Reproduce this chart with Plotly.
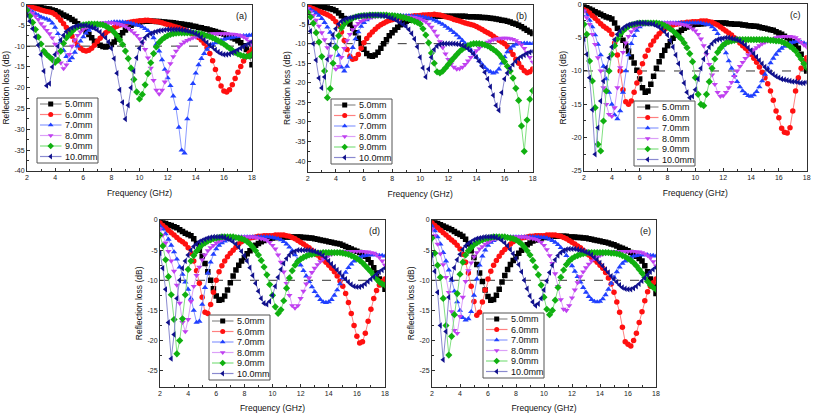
import plotly.graph_objects as go

# ---------------- data ----------------
FREQ_GHZ = [round(2.0 + 0.2 * k, 1) for k in range(81)]
THICKNESS = ["5.0mm", "6.0mm", "7.0mm", "8.0mm", "9.0mm", "10.0mm"]
PANEL_TAGS = ["(a)", "(b)", "(c)", "(d)", "(e)"]
X_TICKS = [2, 4, 6, 8, 10, 12, 14, 16, 18]
X_MINOR = [3, 5, 7, 9, 11, 13, 15, 17]

# ----- panel (a) -----
A_50 = [-0.1, -0.2, -0.3, -0.4, -0.6, -0.8, -0.9, -1.0, -1.1, -1.3,
        -1.5, -1.8, -2.1, -2.5, -2.8, -3.2, -3.6, -4.0, -4.6, -5.2,
        -5.8, -6.5, -7.2, -8.0, -8.8, -9.3, -9.8, -10.1, -10.2, -10.0,
        -9.6, -9.0, -8.3, -7.5, -6.8, -6.1, -5.5, -5.0, -4.6, -4.4,
        -4.2, -4.1, -4.0, -4.0, -4.0, -4.0, -4.1, -4.1, -4.2, -4.2,
        -4.3, -4.3, -4.4, -4.5, -4.6, -4.7, -4.8, -4.9, -5.0, -5.2,
        -5.3, -5.5, -5.6, -5.8, -5.9, -6.1, -6.3, -6.5, -6.7, -6.9,
        -7.1, -7.4, -7.7, -8.0, -8.3, -8.7, -9.2, -9.9, -10.8, -12.3,
        -14.5]
A_60 = [-0.3, -0.5, -0.7, -0.9, -1.1, -1.3, -1.5, -1.7, -1.8, -2.0,
        -2.4, -3.0, -3.8, -4.6, -5.5, -6.5, -7.6, -8.7, -9.7, -10.5,
        -11.0, -11.2, -11.0, -10.5, -9.8, -8.9, -8.1, -7.4, -6.8, -6.3,
        -5.9, -5.5, -5.2, -4.9, -4.7, -4.5, -4.3, -4.2, -4.1, -4.0,
        -3.9, -3.9, -3.8, -3.8, -3.9, -4.0, -4.1, -4.2, -4.4, -4.6,
        -4.8, -5.0, -5.2, -5.4, -5.6, -5.9, -6.1, -6.4, -6.7, -7.0,
        -7.4, -7.9, -8.5, -9.3, -10.4, -11.8, -13.5, -15.6, -17.8, -19.6,
        -20.8, -21.0, -20.5, -19.3, -17.8, -16.3, -14.9, -13.6, -12.5, -11.6,
        -10.8]
A_70 = [-1.0, -1.4, -1.8, -2.2, -2.6, -3.0, -3.3, -3.5, -3.8, -4.5,
        -5.5, -7.0, -9.0, -11.0, -12.5, -13.5, -12.8, -11.5, -10.0, -8.8,
        -7.8, -6.9, -6.2, -5.7, -5.3, -5.0, -4.8, -4.6, -4.5, -4.4,
        -4.3, -4.2, -4.2, -4.2, -4.2, -4.3, -4.4, -4.5, -4.7, -4.9,
        -5.1, -5.4, -5.8, -6.3, -7.0, -8.0, -9.5, -11.2, -13.3, -15.6,
        -17.6, -19.5, -22.0, -25.0, -29.5, -35.0, -35.7, -27.5, -22.8, -19.0,
        -16.5, -14.5, -13.0, -11.8, -10.8, -10.1, -9.6, -9.2, -8.9, -8.6,
        -8.4, -8.2, -8.0, -7.9, -7.8, -7.7, -7.6, -7.5, -7.5, -7.4,
        -7.3]
A_80 = [-1.0, -1.5, -2.1, -2.8, -3.6, -4.6, -5.4, -6.2, -7.0, -8.0,
        -9.5, -11.5, -14.0, -15.4, -14.5, -12.0, -10.0, -8.5, -7.4, -6.6,
        -6.0, -5.5, -5.2, -4.9, -4.7, -4.6, -4.5, -4.4, -4.4, -4.4,
        -4.4, -4.5, -4.6, -4.8, -5.0, -5.3, -5.7, -6.2, -6.8, -7.4,
        -8.2, -9.3, -10.8, -12.8, -15.3, -18.2, -20.6, -21.5, -20.6, -18.6,
        -16.2, -14.2, -12.5, -11.2, -10.2, -9.5, -9.0, -8.6, -8.3, -8.0,
        -7.8, -7.6, -7.4, -7.3, -7.2, -7.1, -7.0, -7.0, -7.0, -7.0,
        -7.0, -7.0, -7.1, -7.1, -7.2, -7.3, -7.5, -7.8, -8.2, -8.8,
        -9.5]
A_90 = [-1.4, -2.8, -4.3, -6.0, -7.8, -9.5, -11.2, -12.0, -12.6, -13.2,
        -13.9, -13.4, -11.2, -9.3, -8.0, -7.2, -6.5, -5.8, -5.4, -5.1,
        -4.9, -4.8, -4.7, -4.7, -4.7, -4.7, -4.8, -4.9, -5.2, -5.6,
        -6.0, -6.7, -7.5, -8.5, -9.6, -11.2, -13.0, -15.3, -18.0, -21.0,
        -22.7, -21.6, -19.3, -16.6, -14.0, -11.8, -10.2, -9.1, -8.4, -7.9,
        -7.5, -7.2, -7.0, -6.9, -6.8, -6.8, -6.8, -6.8, -6.8, -6.8,
        -6.9, -7.0, -7.1, -7.3, -7.5, -7.7, -8.0, -8.3, -8.7, -9.1,
        -9.5, -10.0, -10.5, -11.0, -11.5, -11.9, -12.2, -12.4, -12.5, -12.4,
        -12.0]
A_100 = [-2.5, -4.0, -5.8, -7.8, -9.8, -12.0, -16.0, -19.5, -19.0, -15.0,
         -12.0, -10.0, -8.5, -7.4, -6.5, -6.0, -5.6, -5.3, -5.1, -5.0,
         -5.0, -5.0, -5.2, -5.4, -5.7, -6.1, -6.6, -7.3, -8.0, -9.0,
         -10.5, -13.0, -16.5, -20.5, -23.5, -27.5, -24.2, -20.0, -16.0, -12.8,
         -10.5, -9.0, -8.0, -7.4, -7.0, -6.7, -6.5, -6.3, -6.2, -6.1,
         -6.0, -6.0, -6.0, -6.0, -6.0, -6.1, -6.2, -6.3, -6.5, -6.7,
         -7.0, -7.4, -7.9, -8.5, -9.1, -9.7, -10.3, -10.9, -11.4, -11.8,
         -12.0, -12.0, -11.9, -11.6, -11.3, -10.9, -10.5, -10.1, -9.7, -9.4,
         -9.0]

# ----- panel (b) -----
B_50 = [0.0, -0.1, -0.2, -0.3, -0.4, -0.5, -0.7, -0.9, -1.1, -1.3,
        -1.6, -2.2, -2.9, -3.6, -4.3, -5.0, -6.0, -7.2, -8.6, -10.0,
        -11.4, -12.5, -13.1, -13.2, -12.9, -12.2, -11.2, -10.0, -9.0, -8.0,
        -7.2, -6.5, -5.8, -5.2, -4.7, -4.3, -4.0, -3.7, -3.5, -3.4,
        -3.3, -3.2, -3.1, -3.1, -3.0, -3.0, -3.0, -3.0, -3.0, -3.0,
        -3.0, -3.0, -3.0, -3.0, -3.0, -3.0, -3.0, -3.1, -3.1, -3.1,
        -3.2, -3.2, -3.3, -3.3, -3.4, -3.5, -3.6, -3.7, -3.8, -4.0,
        -4.1, -4.3, -4.5, -4.8, -5.0, -5.3, -5.7, -6.1, -6.6, -7.0,
        -7.4]
B_60 = [-0.5, -0.8, -1.1, -1.4, -1.7, -2.0, -2.3, -2.6, -3.0, -3.6,
        -4.4, -5.4, -7.0, -9.2, -11.5, -13.2, -14.0, -13.8, -12.8, -11.2,
        -9.8, -8.7, -7.8, -7.0, -6.3, -5.7, -5.2, -4.8, -4.4, -4.1,
        -3.9, -3.7, -3.5, -3.4, -3.3, -3.2, -3.1, -3.0, -2.9, -2.9,
        -2.8, -2.7, -2.7, -2.6, -2.6, -2.5, -2.6, -2.7, -2.9, -3.1,
        -3.3, -3.5, -3.8, -4.0, -4.2, -4.5, -4.7, -4.9, -5.1, -5.3,
        -5.6, -6.0, -6.4, -6.8, -7.2, -7.6, -8.1, -8.6, -9.1, -9.6,
        -10.0, -10.8, -11.8, -12.8, -14.0, -15.0, -16.0, -16.9, -17.4, -17.2,
        -16.5]
B_70 = [-1.0, -1.3, -1.7, -2.2, -2.8, -3.6, -4.6, -5.8, -7.1, -8.6,
        -10.5, -13.0, -16.0, -17.0, -15.8, -13.5, -11.0, -8.8, -7.0, -5.6,
        -4.6, -3.9, -3.4, -3.1, -2.9, -2.8, -2.8, -2.8, -2.8, -2.8,
        -2.8, -2.8, -2.8, -2.8, -2.9, -2.9, -2.9, -3.0, -3.0, -3.0,
        -3.1, -3.2, -3.3, -3.5, -3.7, -4.0, -4.3, -4.7, -5.1, -5.6,
        -6.1, -6.6, -7.2, -7.8, -8.5, -9.2, -10.0, -10.8, -11.7, -12.6,
        -13.5, -14.4, -15.3, -16.1, -16.8, -17.2, -17.5, -17.3, -16.5, -15.0,
        -13.4, -12.1, -11.2, -10.6, -10.2, -10.0, -10.0, -9.9, -9.9, -10.0,
        -10.0]
B_80 = [-1.0, -1.8, -2.8, -4.0, -5.5, -7.2, -9.0, -11.0, -13.2, -15.2,
        -16.5, -15.8, -13.5, -11.2, -9.2, -7.6, -6.4, -5.5, -4.8, -4.3,
        -3.9, -3.6, -3.4, -3.2, -3.1, -3.0, -3.0, -2.9, -2.9, -2.9,
        -2.9, -2.9, -2.9, -3.0, -3.0, -3.1, -3.1, -3.2, -3.3, -3.5,
        -3.7, -4.0, -4.4, -5.0, -5.8, -6.8, -8.0, -9.5, -11.0, -12.6,
        -14.0, -15.2, -16.0, -16.5, -16.4, -16.0, -15.3, -14.4, -13.5, -12.6,
        -11.8, -11.1, -10.5, -10.0, -9.6, -9.3, -9.0, -8.8, -8.7, -8.6,
        -8.6, -8.6, -8.7, -8.9, -9.2, -9.7, -10.3, -11.2, -12.3, -13.5,
        -14.7]
B_90 = [-2.0, -3.2, -4.8, -7.2, -9.6, -13.3, -17.0, -23.8, -21.5, -15.0,
        -11.0, -8.0, -6.0, -5.0, -4.3, -3.8, -3.5, -3.2, -3.0, -2.9,
        -2.8, -2.8, -2.7, -2.7, -2.7, -2.7, -2.7, -2.7, -2.7, -2.8,
        -2.8, -2.9, -3.0, -3.1, -3.3, -3.5, -3.7, -4.0, -4.3, -4.6,
        -5.0, -6.2, -7.8, -9.8, -12.4, -15.0, -17.2, -17.5, -17.0, -16.2,
        -15.3, -14.4, -13.6, -12.8, -12.0, -11.4, -10.9, -10.5, -10.2, -10.0,
        -10.0, -10.0, -10.1, -10.3, -10.6, -11.0, -11.5, -12.0, -12.7, -13.6,
        -14.6, -15.8, -17.0, -18.8, -21.4, -24.5, -31.0, -37.5, -29.5, -24.2,
        -22.0]
B_100 = [-4.5, -6.8, -10.0, -14.2, -18.8, -21.3, -18.5, -14.0, -10.2, -7.8,
         -6.2, -5.0, -4.3, -3.9, -3.6, -3.4, -3.3, -3.1, -3.0, -2.9,
         -2.8, -2.8, -2.7, -2.7, -2.7, -2.7, -2.8, -2.9, -3.0, -3.3,
         -3.5, -3.8, -4.2, -4.6, -5.1, -5.6, -6.4, -7.4, -8.8, -10.8,
         -13.5, -16.2, -18.5, -16.5, -13.5, -11.5, -10.6, -10.2, -10.0, -10.0,
         -10.0, -10.0, -10.0, -10.1, -10.2, -10.4, -10.8, -11.3, -11.9, -12.6,
         -13.5, -14.5, -15.8, -17.3, -19.0, -21.0, -23.2, -25.8, -27.0, -22.5,
         -19.0, -17.5, -16.3, -15.3, -14.5, -13.8, -13.3, -12.9, -12.5, -12.2,
         -12.0]

# ----- panel (c) -----
C_50 = [-0.3, -0.5, -0.7, -0.9, -1.1, -1.3, -1.5, -1.7, -1.9, -2.0,
        -2.2, -2.8, -3.6, -4.5, -5.4, -6.2, -7.0, -7.9, -8.8, -9.9,
        -11.2, -12.5, -13.2, -13.0, -12.0, -10.8, -9.6, -8.6, -7.7, -6.9,
        -6.2, -5.6, -5.1, -4.6, -4.2, -3.9, -3.6, -3.4, -3.3, -3.1,
        -3.0, -3.0, -2.9, -2.9, -2.8, -2.8, -2.8, -2.8, -2.8, -2.8,
        -2.8, -2.8, -2.9, -2.9, -3.0, -3.0, -3.0, -3.1, -3.1, -3.2,
        -3.2, -3.3, -3.3, -3.4, -3.5, -3.6, -3.7, -3.8, -3.9, -4.1,
        -4.3, -4.5, -4.8, -5.0, -5.3, -5.6, -6.0, -6.6, -7.5, -8.6,
        -10.0]
C_60 = [-0.8, -1.0, -1.3, -1.7, -2.1, -2.5, -2.9, -3.3, -3.6, -3.9,
        -4.5, -5.8, -7.6, -10.0, -12.8, -14.6, -15.0, -14.5, -13.2, -11.8,
        -10.2, -8.9, -7.8, -6.9, -6.1, -5.5, -4.9, -4.4, -4.0, -3.7,
        -3.5, -3.3, -3.1, -3.0, -2.9, -2.8, -2.8, -2.7, -2.7, -2.6,
        -2.6, -2.6, -2.5, -2.5, -2.5, -2.6, -2.7, -2.9, -3.1, -3.4,
        -3.7, -4.0, -4.3, -4.6, -5.0, -5.4, -5.8, -6.2, -6.6, -7.0,
        -7.5, -8.1, -8.7, -9.4, -10.2, -11.0, -11.9, -13.0, -14.4, -16.0,
        -17.0, -18.6, -19.2, -19.3, -18.5, -16.0, -13.0, -11.0, -9.6, -8.6,
        -8.0]
C_70 = [-1.0, -1.6, -2.4, -3.4, -4.6, -6.0, -7.6, -9.3, -11.2, -13.2,
        -15.0, -16.6, -17.2, -16.0, -13.2, -10.0, -7.6, -5.9, -4.7, -3.9,
        -3.4, -3.1, -2.9, -2.8, -2.8, -2.8, -2.8, -2.8, -2.8, -2.8,
        -2.8, -2.8, -2.8, -2.8, -2.8, -2.8, -2.8, -2.8, -2.8, -2.8,
        -2.8, -2.8, -2.8, -2.9, -3.0, -3.1, -3.4, -3.8, -4.4, -5.2,
        -6.2, -7.3, -8.5, -9.6, -10.7, -11.6, -12.4, -13.0, -13.4, -13.7,
        -13.8, -13.6, -13.1, -12.4, -11.5, -10.5, -9.6, -8.8, -8.1, -7.5,
        -7.0, -6.6, -6.3, -6.0, -5.8, -5.7, -5.6, -5.6, -5.7, -5.8,
        -6.0]
C_80 = [-1.0, -2.0, -3.0, -4.5, -6.0, -8.0, -10.0, -12.5, -15.0, -16.5,
        -16.8, -15.5, -12.5, -9.5, -7.2, -5.8, -4.8, -4.1, -3.6, -3.3,
        -3.1, -3.0, -2.9, -2.9, -2.8, -2.8, -2.8, -2.8, -2.8, -2.8,
        -2.8, -2.8, -2.8, -2.9, -2.9, -3.0, -3.1, -3.2, -3.4, -3.7,
        -4.0, -4.5, -5.2, -6.2, -7.5, -9.0, -10.6, -12.0, -13.2, -13.8,
        -13.7, -13.2, -12.5, -11.7, -10.8, -10.0, -9.3, -8.7, -8.1, -7.6,
        -7.2, -6.8, -6.5, -6.2, -5.9, -5.7, -5.5, -5.3, -5.2, -5.0,
        -4.9, -4.9, -4.8, -4.8, -4.8, -4.9, -5.0, -5.3, -5.7, -6.1,
        -6.4]
C_90 = [-3.0, -4.5, -8.5, -11.5, -15.5, -21.0, -22.0, -17.5, -13.0, -10.0,
        -7.5, -6.2, -5.2, -4.5, -4.0, -3.6, -3.3, -3.1, -3.0, -2.9,
        -2.8, -2.8, -2.8, -2.8, -2.8, -2.8, -2.8, -2.9, -3.0, -3.2,
        -3.4, -3.7, -4.0, -4.4, -4.8, -5.2, -5.8, -6.5, -7.4, -8.6,
        -11.0, -13.5, -15.0, -15.2, -13.5, -11.6, -9.6, -8.2, -7.2, -6.6,
        -6.1, -5.8, -5.6, -5.5, -5.4, -5.3, -5.3, -5.3, -5.3, -5.3,
        -5.3, -5.3, -5.3, -5.3, -5.3, -5.3, -5.3, -5.4, -5.4, -5.5,
        -5.5, -5.6, -5.8, -6.0, -6.3, -6.6, -7.0, -7.6, -8.2, -8.9,
        -9.5]
C_100 = [-5.2, -7.5, -11.0, -15.8, -22.5, -18.5, -14.5, -11.5, -9.5, -8.0,
         -6.4, -5.3, -4.5, -4.0, -3.6, -3.3, -3.1, -3.0, -2.9, -2.8,
         -2.8, -2.8, -2.8, -2.9, -2.9, -3.0, -3.2, -3.4, -3.7, -4.1,
         -4.6, -5.4, -6.4, -7.6, -8.9, -10.3, -11.8, -13.2, -14.0, -13.8,
         -12.8, -11.2, -9.6, -8.2, -7.2, -6.4, -5.9, -5.5, -5.3, -5.2,
         -5.1, -5.0, -5.0, -5.1, -5.2, -5.3, -5.5, -5.8, -6.1, -6.5,
         -6.9, -7.4, -7.9, -8.4, -8.9, -9.4, -9.8, -10.2, -10.5, -10.8,
         -11.0, -11.2, -11.3, -11.4, -11.5, -11.6, -11.6, -11.7, -11.8, -11.8,
         -11.7]

# ----- panel (d) -----
D_50 = [-0.3, -0.5, -0.6, -0.8, -0.9, -1.1, -1.3, -1.6, -1.9, -2.2,
        -2.4, -2.6, -3.1, -3.9, -5.0, -6.0, -7.2, -8.6, -10.0, -11.4,
        -12.6, -13.3, -13.2, -12.6, -11.6, -10.4, -9.3, -8.3, -7.5, -6.8,
        -6.2, -5.6, -5.1, -4.6, -4.2, -3.9, -3.6, -3.4, -3.2, -3.1,
        -3.0, -2.9, -2.9, -2.8, -2.8, -2.8, -2.8, -2.8, -2.8, -2.8,
        -2.8, -2.9, -2.9, -3.0, -3.0, -3.1, -3.2, -3.3, -3.4, -3.5,
        -3.6, -3.7, -3.8, -3.9, -4.0, -4.2, -4.4, -4.6, -4.8, -5.0,
        -5.2, -5.4, -5.7, -6.0, -6.5, -7.1, -7.9, -8.8, -9.8, -10.7,
        -11.5]
D_60 = [-0.5, -0.9, -1.3, -1.7, -2.1, -2.5, -2.9, -3.3, -3.6, -4.0,
        -4.6, -5.5, -6.8, -8.4, -10.5, -12.8, -15.3, -15.5, -14.0, -12.0,
        -10.0, -8.6, -7.6, -6.8, -6.1, -5.5, -5.0, -4.5, -4.0, -3.6,
        -3.3, -3.1, -3.0, -2.9, -2.8, -2.7, -2.7, -2.6, -2.6, -2.6,
        -2.6, -2.5, -2.5, -2.5, -2.5, -2.6, -2.7, -2.9, -3.1, -3.4,
        -3.7, -4.0, -4.3, -4.6, -5.0, -5.4, -5.8, -6.2, -6.6, -7.0,
        -7.5, -8.0, -8.6, -9.3, -10.1, -11.0, -12.2, -13.7, -15.5, -17.5,
        -19.3, -20.4, -20.2, -18.8, -16.8, -14.8, -13.0, -11.7, -10.8, -10.2,
        -9.8]
D_70 = [-1.0, -1.5, -2.3, -3.2, -4.2, -5.3, -6.5, -7.8, -9.0, -10.3,
        -11.5, -13.0, -15.0, -17.0, -16.8, -14.0, -11.2, -8.8, -7.0, -5.7,
        -4.8, -4.2, -3.8, -3.5, -3.3, -3.1, -3.0, -2.9, -2.8, -2.8,
        -2.8, -2.8, -2.8, -2.8, -2.8, -2.8, -2.8, -2.8, -2.8, -2.8,
        -2.9, -3.0, -3.1, -3.3, -3.6, -4.0, -4.5, -5.1, -5.8, -6.6,
        -7.5, -8.4, -9.3, -10.2, -11.1, -11.9, -12.6, -13.2, -13.6, -13.7,
        -13.6, -13.2, -12.5, -11.6, -10.6, -9.6, -8.7, -7.9, -7.3, -6.8,
        -6.5, -6.2, -6.0, -5.9, -5.8, -5.8, -5.8, -5.8, -5.9, -5.9,
        -6.0]
D_80 = [-1.5, -2.5, -3.8, -5.2, -6.8, -8.5, -10.8, -13.8, -17.0, -18.5,
        -16.5, -13.5, -11.0, -9.2, -7.8, -6.6, -5.8, -5.1, -4.6, -4.2,
        -3.8, -3.5, -3.3, -3.1, -3.0, -2.9, -2.8, -2.8, -2.8, -2.8,
        -2.8, -2.8, -2.8, -2.8, -2.9, -3.0, -3.1, -3.2, -3.4, -3.7,
        -4.2, -4.8, -5.8, -7.0, -8.6, -10.5, -12.5, -14.2, -14.6, -14.2,
        -13.0, -11.8, -10.6, -9.6, -8.7, -8.0, -7.4, -6.9, -6.5, -6.2,
        -5.9, -5.7, -5.5, -5.4, -5.3, -5.2, -5.2, -5.2, -5.2, -5.2,
        -5.2, -5.2, -5.2, -5.3, -5.3, -5.4, -5.5, -5.8, -6.2, -6.8,
        -7.5]
D_90 = [-2.5, -4.3, -6.6, -9.4, -12.4, -16.5, -22.2, -20.0, -16.4, -12.4,
        -8.2, -6.8, -5.9, -5.2, -4.6, -4.1, -3.8, -3.5, -3.3, -3.1,
        -3.0, -2.9, -2.8, -2.8, -2.8, -2.8, -2.8, -2.9, -3.0, -3.1,
        -3.3, -3.6, -4.0, -4.5, -5.1, -5.8, -6.7, -7.8, -9.1, -10.7,
        -12.5, -14.4, -15.5, -14.9, -13.4, -11.3, -9.6, -8.4, -7.5, -6.9,
        -6.5, -6.2, -6.0, -5.8, -5.7, -5.6, -5.5, -5.5, -5.4, -5.4,
        -5.4, -5.4, -5.4, -5.4, -5.4, -5.5, -5.6, -5.7, -5.9, -6.1,
        -6.4, -6.7, -7.1, -7.6, -8.1, -8.6, -9.2, -9.8, -10.3, -10.6,
        -10.8]
D_100 = [-5.5, -8.0, -11.5, -17.0, -23.0, -19.0, -13.0, -10.0, -8.0, -6.8,
         -5.8, -5.0, -4.4, -4.0, -3.6, -3.4, -3.2, -3.0, -2.9, -2.8,
         -2.8, -2.8, -2.8, -2.9, -3.1, -3.3, -3.6, -4.0, -4.5, -5.2,
         -5.9, -6.8, -7.9, -9.2, -10.5, -11.8, -13.0, -13.8, -14.0, -13.5,
         -12.5, -11.0, -9.5, -8.2, -7.2, -6.4, -5.8, -5.4, -5.2, -5.0,
         -5.0, -5.0, -5.0, -5.0, -5.1, -5.2, -5.4, -5.6, -5.9, -6.3,
         -6.8, -7.3, -7.8, -8.3, -8.8, -9.3, -9.8, -10.3, -10.7, -11.0,
         -11.1, -11.1, -10.9, -10.6, -10.2, -9.8, -9.4, -9.0, -8.6, -8.3,
         -8.0]

# ----- panel (e) -----
E_50 = [-0.3, -0.5, -0.6, -0.8, -1.0, -1.2, -1.4, -1.6, -1.9, -2.2,
        -2.4, -2.7, -3.2, -4.0, -5.1, -6.2, -7.4, -8.8, -10.2, -11.6,
        -12.7, -13.3, -13.2, -12.5, -11.5, -10.3, -9.2, -8.2, -7.4, -6.7,
        -6.1, -5.5, -5.0, -4.5, -4.1, -3.8, -3.5, -3.3, -3.1, -3.0,
        -2.9, -2.8, -2.8, -2.7, -2.7, -2.7, -2.7, -2.7, -2.7, -2.8,
        -2.8, -2.8, -2.9, -2.9, -3.0, -3.0, -3.1, -3.2, -3.3, -3.4,
        -3.5, -3.6, -3.7, -3.8, -4.0, -4.1, -4.3, -4.5, -4.7, -4.9,
        -5.1, -5.4, -5.7, -6.0, -6.4, -6.8, -7.6, -8.6, -9.8, -11.0,
        -12.2]
E_60 = [-0.5, -0.9, -1.3, -1.7, -2.1, -2.5, -2.9, -3.3, -3.7, -4.2,
        -4.8, -5.7, -7.0, -8.8, -11.0, -13.5, -15.8, -15.3, -13.6, -11.6,
        -9.8, -8.5, -7.5, -6.7, -6.0, -5.4, -4.9, -4.4, -4.0, -3.6,
        -3.3, -3.1, -3.0, -2.9, -2.8, -2.7, -2.7, -2.6, -2.6, -2.6,
        -2.6, -2.5, -2.5, -2.5, -2.5, -2.6, -2.7, -2.9, -3.1, -3.4,
        -3.7, -4.0, -4.3, -4.6, -5.0, -5.4, -5.8, -6.2, -6.6, -7.0,
        -7.5, -8.0, -8.7, -9.6, -10.6, -12.0, -13.6, -15.3, -17.8, -20.2,
        -20.6, -20.9, -20.0, -18.8, -17.0, -15.2, -13.4, -11.9, -11.0, -10.4,
        -9.8]
E_70 = [-1.0, -1.8, -2.8, -4.0, -5.4, -6.8, -8.3, -10.0, -11.8, -13.6,
        -15.0, -16.2, -16.6, -16.4, -15.2, -12.5, -9.8, -7.5, -6.0, -5.0,
        -4.2, -3.7, -3.4, -3.1, -3.0, -2.9, -2.8, -2.8, -2.8, -2.8,
        -2.8, -2.8, -2.8, -2.8, -2.8, -2.8, -2.8, -2.8, -2.8, -2.9,
        -2.9, -3.0, -3.2, -3.4, -3.7, -4.1, -4.6, -5.2, -5.9, -6.7,
        -7.6, -8.5, -9.4, -10.3, -11.2, -12.0, -12.7, -13.2, -13.5, -13.6,
        -13.5, -13.1, -12.4, -11.5, -10.5, -9.5, -8.6, -7.8, -7.2, -6.8,
        -6.5, -6.2, -6.0, -5.9, -5.8, -5.8, -5.8, -5.8, -5.9, -5.9,
        -6.0]
E_80 = [-1.5, -2.6, -4.0, -5.6, -7.4, -9.5, -12.0, -15.2, -18.3, -18.8,
        -16.0, -12.8, -10.2, -8.4, -7.1, -6.1, -5.4, -4.8, -4.4, -4.0,
        -3.7, -3.4, -3.2, -3.1, -3.0, -2.9, -2.8, -2.8, -2.8, -2.8,
        -2.8, -2.8, -2.8, -2.8, -2.9, -3.0, -3.1, -3.2, -3.4, -3.7,
        -4.2, -4.9, -5.9, -7.2, -8.9, -11.0, -13.2, -14.8, -15.0, -14.2,
        -12.9, -11.6, -10.4, -9.4, -8.6, -7.9, -7.3, -6.8, -6.4, -6.1,
        -5.9, -5.7, -5.5, -5.4, -5.3, -5.2, -5.2, -5.2, -5.2, -5.2,
        -5.2, -5.2, -5.2, -5.3, -5.3, -5.4, -5.6, -5.9, -6.3, -6.9,
        -7.6]
E_90 = [-3.0, -5.5, -7.5, -9.5, -13.0, -17.5, -22.4, -19.3, -15.7, -12.2,
        -9.0, -7.0, -5.8, -5.1, -4.6, -4.1, -3.8, -3.5, -3.3, -3.1,
        -3.0, -2.9, -2.8, -2.8, -2.8, -2.8, -2.8, -2.9, -3.0, -3.1,
        -3.3, -3.6, -4.0, -4.5, -5.1, -5.8, -6.7, -7.8, -9.1, -10.8,
        -12.8, -14.8, -15.7, -15.0, -13.3, -11.2, -9.5, -8.3, -7.4, -6.8,
        -6.4, -6.1, -5.9, -5.7, -5.6, -5.5, -5.4, -5.4, -5.4, -5.4,
        -5.4, -5.4, -5.4, -5.4, -5.5, -5.5, -5.6, -5.7, -5.9, -6.1,
        -6.4, -6.7, -7.1, -7.6, -8.2, -8.8, -9.5, -10.2, -10.8, -11.2,
        -11.5]
E_100 = [-5.8, -8.5, -12.0, -17.5, -23.2, -18.5, -12.8, -9.8, -7.9, -6.6,
         -5.7, -4.9, -4.3, -3.9, -3.6, -3.3, -3.1, -3.0, -2.9, -2.8,
         -2.8, -2.8, -2.8, -2.9, -3.1, -3.4, -3.8, -4.3, -4.9, -5.6,
         -6.4, -7.4, -8.6, -10.0, -11.4, -12.6, -13.6, -14.2, -13.9, -13.0,
         -11.6, -10.1, -8.7, -7.5, -6.6, -5.9, -5.4, -5.1, -4.9, -4.8,
         -4.8, -4.8, -4.9, -5.0, -5.1, -5.3, -5.5, -5.8, -6.2, -6.6,
         -7.1, -7.6, -8.2, -8.7, -9.3, -9.8, -10.3, -10.8, -11.2, -11.4,
         -11.5, -11.5, -11.3, -11.0, -10.6, -10.1, -9.6, -9.1, -8.6, -8.2,
         -7.9]

PANEL_SERIES = [
    [A_50, A_60, A_70, A_80, A_90, A_100],
    [B_50, B_60, B_70, B_80, B_90, B_100],
    [C_50, C_60, C_70, C_80, C_90, C_100],
    [D_50, D_60, D_70, D_80, D_90, D_100],
    [E_50, E_60, E_70, E_80, E_90, E_100],
]
for panel in PANEL_SERIES:
    for s in panel:
        assert len(s) == len(FREQ_GHZ), len(s)

Y_TICK_LOW = [-40, -40, -25, -25, -25]

# ---------------- layout / style ----------------
W, H = 813, 413
PLOT_PX = [  # (left, right, top, bottom) in pixels
    (27, 252, 4.5, 171),
    (307.7, 532.7, 4.5, 171.7),
    (584, 806.7, 4.3, 171),
    (160, 385, 220, 386.7),
    (432, 656, 220, 386.7),
]
Y_LOW = [-40, -42.7, -25, -27.65, -27.65]
LEGEND_PX = [(37, 98), (331, 99), (634, 101), (209, 315), (483, 313)]
LEG_W, LEG_H, LEG_STEP = 61, 65, 10.5

SYMBOLS = ["square", "circle", "triangle-up", "triangle-down", "diamond", "triangle-left"]
MARKER_COLORS = ["#000000", "#ff1010", "#2040ff", "#c040f0", "#10b010", "#10108c"]
LINE_COLORS = ["#8c8c8c", "#ff8080", "#8a9aff", "#dba0f8", "#80e080", "#8a8ad0"]
FONT = "Liberation Sans, Arial, sans-serif"
AX_COLOR = "#303030"

fig = go.Figure()
layout = dict(
    width=W, height=H, margin=dict(l=0, r=0, t=0, b=0, autoexpand=False),
    paper_bgcolor="white", plot_bgcolor="rgba(0,0,0,0)",
    font=dict(family=FONT, color="#111111"),
    showlegend=False,
)
shapes, annotations = [], []

for p, series in enumerate(PANEL_SERIES):
    key = "" if p == 0 else str(p + 1)
    left, right, top, bottom = PLOT_PX[p]
    xd = [left / W, right / W]
    yd = [1 - bottom / H, 1 - top / H]
    for s, vals in enumerate(series):
        fig.add_trace(go.Scatter(
            x=FREQ_GHZ, y=vals, mode="lines+markers", name=THICKNESS[s],
            xaxis="x" + key, yaxis="y" + key, cliponaxis=True,
            line=dict(color=LINE_COLORS[s], width=1),
            marker=dict(symbol=SYMBOLS[s], size=5.5, color=MARKER_COLORS[s],
                        line=dict(width=0)),
            showlegend=False, hoverinfo="skip"))
    yt = list(range(0, Y_TICK_LOW[p] - 1, -5))
    ym = [v - 2.5 for v in yt if v - 2.5 > Y_LOW[p]]
    layout["xaxis" + key] = dict(
        domain=xd, range=[2, 18], anchor="y" + key, automargin=False,
        tickmode="array", tickvals=X_TICKS, ticktext=[str(v) for v in X_TICKS],
        ticks="inside", ticklen=3, tickwidth=1, tickcolor=AX_COLOR,
        minor=dict(tickmode="array", tickvals=X_MINOR, ticks="inside",
                   ticklen=2, tickcolor=AX_COLOR),
        showline=True, linecolor=AX_COLOR, linewidth=1, mirror=True,
        showgrid=False, zeroline=False,
        tickfont=dict(size=7, family=FONT, color="#222222"),
        title=dict(text="Frequency (GHz)", font=dict(size=8.5, family=FONT),
                   standoff=9),
        fixedrange=True)
    layout["yaxis" + key] = dict(
        domain=yd, range=[Y_LOW[p], 0], anchor="x" + key, automargin=False,
        tickmode="array", tickvals=yt, ticktext=["%d" % v for v in yt],
        ticks="inside", ticklen=3, tickwidth=1, tickcolor=AX_COLOR,
        minor=dict(tickmode="array", tickvals=ym, ticks="inside",
                   ticklen=2, tickcolor=AX_COLOR),
        showline=True, linecolor=AX_COLOR, linewidth=1, mirror=True,
        showgrid=False, zeroline=False,
        tickfont=dict(size=7, family=FONT, color="#222222"),
        title=dict(text="Reflection loss (dB)", font=dict(size=8.5, family=FONT),
                   standoff=3),
        fixedrange=True)
    shapes.append(dict(type="line", xref="x" + key + " domain", yref="y" + key,
                       x0=0, x1=1, y0=-10, y1=-10, layer="below",
                       line=dict(color="#333333", width=1, dash="dash")))
    annotations.append(dict(text=PANEL_TAGS[p], xref="x" + key + " domain",
                            yref="y" + key + " domain", x=0.985, y=0.975,
                            xanchor="right", yanchor="top", showarrow=False,
                            font=dict(size=9, family=FONT, color="#111111")))

# overlay pixel axis for the in-plot legends
layout["xaxis6"] = dict(domain=[0, 1], range=[0, W], anchor="y6", visible=False,
                        fixedrange=True, automargin=False)
layout["yaxis6"] = dict(domain=[0, 1], range=[H, 0], anchor="x6", visible=False,
                        fixedrange=True, automargin=False)
for p in range(len(PANEL_SERIES)):
    bx, by = LEGEND_PX[p]
    shapes.append(dict(type="rect", xref="x6", yref="y6", x0=bx, x1=bx + LEG_W,
                       y0=by, y1=by + LEG_H, layer="between",
                       fillcolor="white", line=dict(color="#555555", width=1)))
    for s, name in enumerate(THICKNESS):
        yc = by + 6 + s * LEG_STEP
        fig.add_trace(go.Scatter(
            x=[bx + 3, bx + 24.5], y=[yc, yc], mode="lines", xaxis="x6", yaxis="y6",
            line=dict(color=LINE_COLORS[s], width=1.2), showlegend=False,
            hoverinfo="skip"))
        fig.add_trace(go.Scatter(
            x=[bx + 13.7], y=[yc], mode="markers", xaxis="x6", yaxis="y6",
            marker=dict(symbol=SYMBOLS[s], size=5, color=MARKER_COLORS[s],
                        line=dict(width=0)),
            showlegend=False, hoverinfo="skip"))
        annotations.append(dict(text=name, xref="x6", yref="y6", x=bx + 26, y=yc,
                                xanchor="left", yanchor="middle", showarrow=False,
                                font=dict(size=9, family=FONT, color="#111111")))

layout["shapes"] = shapes
layout["annotations"] = annotations
fig.update_layout(**layout)
fig.write_html("out.html",
               config={"displayModeBar": False, "staticPlot": True},
               post_script="document.body.style.margin='0px';"
                           "document.body.style.overflow='hidden';")
